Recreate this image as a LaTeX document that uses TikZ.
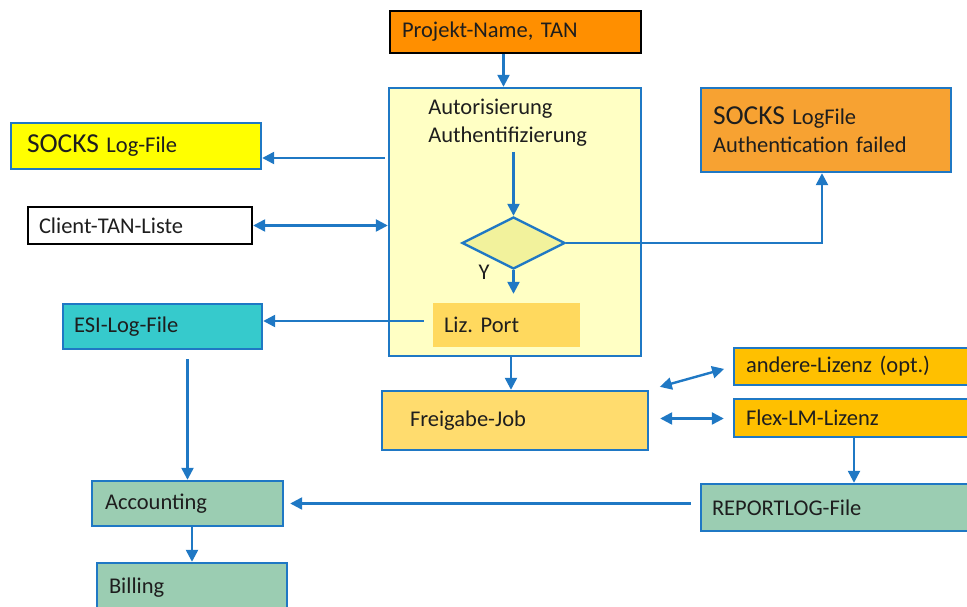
\documentclass[tikz,border=0pt]{standalone}
\usepackage{fontspec}
\setmainfont{Carlito}
\usetikzlibrary{
  positioning,
  arrows.meta,
  shapes.geometric,
  calc
}
\definecolor{lnBlue}{HTML}{1F78C4}
\definecolor{pnOrange}{HTML}{FF8F00}
\definecolor{skOrange}{HTML}{F7A232}
\definecolor{skYellow}{HTML}{FFFF00}
\definecolor{authYellow}{HTML}{FFFFC4}
\definecolor{diaYellow}{HTML}{F2F29C}
\definecolor{lzGold}{HTML}{FFD95E}
\definecolor{frGold}{HTML}{FFDC6E}
\definecolor{esiCyan}{HTML}{36CACC}
\definecolor{licAmber}{HTML}{FFC000}
\definecolor{accGreen}{HTML}{9BCDB2}
\definecolor{txtGray}{HTML}{1E1E1E}
\frenchspacing

\begin{document}
\begin{tikzpicture}[
  every node/.style={font=\fontsize{16}{20}\selectfont, text=txtGray},
  box/.style={
    rectangle, draw=lnBlue, line width=1.7pt,
    align=left, inner ysep=0pt
  },
  decide/.style={
    diamond, draw=lnBlue, fill=diaYellow, line width=1.7pt,
    minimum width=2.575cm, minimum height=1.3cm, inner sep=0pt
  },
  arrow/.style={-{Triangle[length=3mm,width=3mm]}, line width=1.7pt, draw=lnBlue},
  dbl/.style={{Triangle[length=3mm,width=3mm]}-{Triangle[length=3mm,width=3mm]},
    line width=1.7pt, draw=lnBlue}
]
 \clip (0,0) rectangle (24.175,15.175);

 % Top: project name
 \node[box, draw=black, fill=pnOrange, text width=5.675cm, inner xsep=0.3cm,
   minimum height=1.05cm] (proj) at (12.8875,14.375) {Projekt-Name, TAN};

 % Central check box
 \node[rectangle, draw=lnBlue, fill=authYellow, line width=1.7pt,
   minimum width=6.3cm, minimum height=6.7cm, inner sep=0pt] (auth) at (12.875,9.625) {};
 \node[align=left, inner sep=0pt, anchor=north west] (authtxt) at (10.7,12.7)
  {Autorisierung\\Authentifizierung};
 \node[decide] (dia) at (12.8375,9.1) {};
 \node (ylbl) at (12.1,8.375) {Y};
 \node[box, draw=none, fill=lzGold, text width=3.125cm, inner xsep=0.275cm,
   minimum height=1.1cm] (lizport) at (12.6625,7.05) {Liz.\ Port};

 \draw[arrow] ([xshift=-0.3cm]proj.south) -- ([xshift=-0.3cm]proj.south |- auth.north);
 \draw[arrow, shorten <=0.12cm] (authtxt.south -| dia.north) -- (dia.north);
 \draw[arrow, shorten >=0.2cm] (dia.south) -- (dia.south |- lizport.north);

 % Right: failed authentication
 \node[box, fill=skOrange, text width=5.65cm, inner xsep=0.3cm,
   minimum height=2.1cm] (sockr) at (20.65,11.925)
  {{\fontsize{19.5}{23}\selectfont SOCKS} LogFile\\Authentication failed};
 \draw[arrow] (dia.east) -| ([xshift=-0.1cm]sockr.south);

 % Left: log files and TAN list
 \node[box, fill=skYellow, text width=5.45cm, inner xsep=0.4cm,
   minimum height=1.15cm] (sockl) at (3.4,11.525)
  {{\fontsize{19.5}{23}\selectfont SOCKS} Log-File};
 \node[box, draw=black, fill=white, text width=5.05cm, inner xsep=0.275cm,
   minimum height=0.925cm] (client) at (3.5,9.5375) {Client-TAN-Liste};
 \node[box, fill=esiCyan, text width=4.425cm, inner xsep=0.275cm,
   minimum height=1.125cm] (esi) at (4.0625,7.0125) {ESI-Log-File};

 \draw[arrow, shorten <=0.075cm] ([yshift=-0.3cm]sockl.east -| auth.west) -- ([yshift=-0.3cm]sockl.east);
 \draw[dbl] (client.east) -- (client.east -| auth.west);
 \draw[arrow, shorten <=0.2cm] ([yshift=0.1cm]lizport.west) -- ([yshift=0.1cm]lizport.west -| esi.east);

 % Release and licences
 \node[box, fill=frGold, text width=5.25cm, inner xsep=0.7cm,
   minimum height=1.475cm] (freig) at (12.875,4.6625) {Freigabe-Job};
 \node[box, fill=licAmber, text width=5.4cm, inner xsep=0.3cm,
   minimum height=0.925cm] (andere) at (21.35,6.0125) {andere-Lizenz (opt.)};
 \node[box, fill=licAmber, text width=5.4cm, inner xsep=0.3cm,
   minimum height=0.95cm] (flex) at (21.35,4.725) {Flex-LM-Lizenz};
 \node[box, fill=accGreen, text width=6.2cm, inner xsep=0.275cm,
   minimum height=1.175cm] (replog) at (20.9,2.4875) {REPORTLOG-File};

 \draw[arrow] ([xshift=-0.1cm]auth.south) -- ([xshift=-0.1cm]auth.south |- freig.north);
 \draw[dbl, shorten <=0.275cm, shorten >=0.225cm] (freig.north east) -- (andere.west);
 \draw[dbl, shorten <=0.275cm, shorten >=0.225cm] ([yshift=0.05cm]freig.east)
  -- ([yshift=0.05cm]freig.east -| flex.west);
 \draw[arrow] (flex.south) -- (flex.south |- replog.north);

 % Bottom: accounting chain
 \node[box, fill=accGreen, text width=4.125cm, inner xsep=0.325cm,
   minimum height=1.125cm] (acct) at (4.6875,2.5875) {Accounting};
 \node[box, fill=accGreen, text width=4.15cm, inner xsep=0.3cm,
   minimum height=1.25cm] (bill) at (4.8,0.475) {Billing};

 \draw[arrow, shorten <=0.225cm] (esi.south -| acct.north) -- (acct.north);
 \draw[arrow] (bill.north |- acct.south) -- (bill.north);
 \draw[arrow, shorten <=0.225cm, shorten >=0.15cm] (acct.east -| replog.west) -- (acct.east);
\end{tikzpicture}
\end{document}
